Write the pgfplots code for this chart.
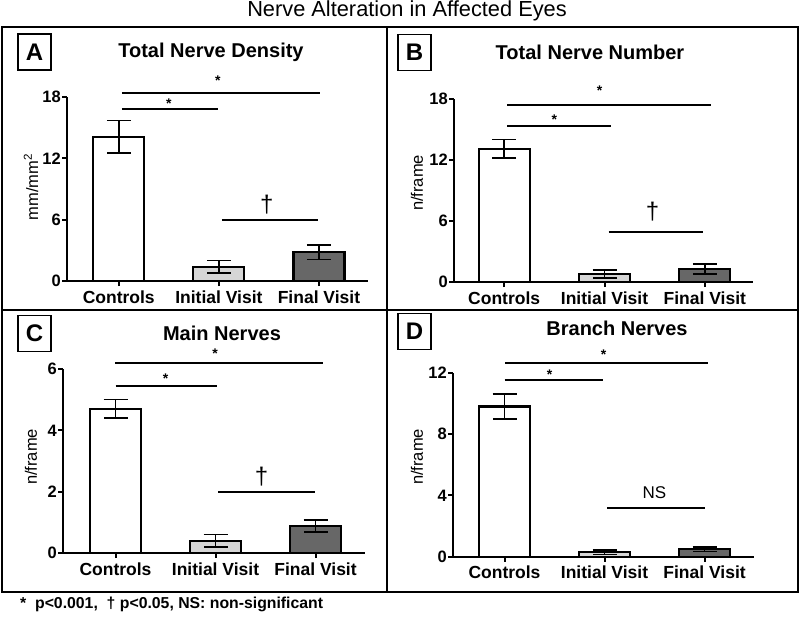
\documentclass[border=0pt]{standalone}
\usepackage{pgfplots}
\pgfplotsset{compat=1.18}
\usepackage{fontspec}
\setmainfont{Liberation Sans}
\definecolor{lgray}{HTML}{D6D6D6}
\definecolor{dgray}{HTML}{676767}

\newcommand{\catfont}{\fontsize{17.5}{19}\selectfont\bfseries}
\newcommand{\ttlfont}{\fontsize{20}{22}\selectfont\bfseries}

\tikzset{
  sig/.style={line width=2pt},
  ttl/.style={font=\ttlfont},
  letterbox/.style={draw, line width=1.3pt, minimum width=33pt, minimum height=36pt,
    inner sep=0pt, font=\fontsize{24}{26}\selectfont\bfseries},
  star/.style={font=\fontsize{14}{16}\selectfont\bfseries},
  dag/.style={font=\fontsize{24}{26}\selectfont},
  ylab/.style={rotate=90, font=\fontsize{16.5}{18}\selectfont},
}

\pgfplotsset{
  nerve/.style={
    scale only axis,
    anchor=south west,
    axis lines=left,
    axis line style={-, line width=2pt},
    ymin=0,
    xtick={0,1,2},
    xticklabels={Controls,Initial Visit,Final Visit},
    x tick label style={font=\catfont, yshift=-1pt},
    y tick label style={font=\fontsize{16.5}{18}\selectfont\bfseries, inner sep=1pt},
    /pgf/number format/assume math mode=true,
    tick style={line width=2pt, black},
    major tick length=5pt,
    tick align=outside,
    clip=false,
  },
  bar/.style={ybar, bar shift=0pt, bar width=51pt, draw=black, line width=2.2pt,
    error bars/y dir=both, error bars/y explicit,
    error bars/error bar style={line width=1.6pt, black},
    error bars/error mark options={rotate=90, mark size=12pt, line width=1.6pt, black}},
}

\begin{document}
\begin{tikzpicture}[x=1pt,y=1pt]
\path[use as bounding box] (0,0) rectangle (800,-624);

% frame
\draw[line width=2pt] (2,-27) rectangle (798,-592);
\draw[line width=1.5pt] (2,-310) -- (798,-310);
\draw[line width=1.5pt] (387,-27) -- (387,-592);

\node[font=\fontsize{21.8}{24}\selectfont] at (407,-11) {Nerve Alteration in Affected Eyes};

% panel A
\begin{axis}[nerve, at={(67pt,-281pt)}, width=301pt, height=184pt,
  xmin=-0.517, xmax=2.49, ymax=18, ytick={0,6,12,18}]
  \addplot[bar, fill=white] coordinates {(0,14.1) +- (0,1.6)};
  \addplot[bar, fill=lgray] coordinates {(1,1.4) +- (0,0.6)};
  \addplot[bar, fill=dgray] coordinates {(2,2.8) +- (0,0.7)};
  \draw[sig] (axis cs:0.03,18.4) -- (axis cs:2.01,18.4);
  \draw[sig] (axis cs:0.03,16.8) -- (axis cs:0.99,16.8);
  \draw[sig] (axis cs:1.03,6.0) -- (axis cs:1.99,6.0);
  \node[star] at (axis cs:0.99,19.6) {*};
  \node[star] at (axis cs:0.5,17.3) {*};
  \node[dag] at (axis cs:1.48,7.5) {†};
\end{axis}
\node[ylab] at (31,-187) {mm/mm\textsuperscript{2}};
\node[ttl] at (211,-52) {Total Nerve Density};
\node[letterbox] at (34.5,-52) {A};

% panel B
\begin{axis}[nerve, at={(454pt,-282pt)}, width=299pt, height=183pt,
  xmin=-0.5, xmax=2.48, ymax=18, ytick={0,6,12,18}]
  \addplot[bar, fill=white] coordinates {(0,13.1) +- (0,0.9)};
  \addplot[bar, fill=lgray] coordinates {(1,0.8) +- (0,0.4)};
  \addplot[bar, fill=dgray] coordinates {(2,1.3) +- (0,0.5)};
  \draw[sig] (axis cs:0.03,17.4) -- (axis cs:2.06,17.4);
  \draw[sig] (axis cs:0.03,15.3) -- (axis cs:1.06,15.3);
  \draw[sig] (axis cs:1.04,4.95) -- (axis cs:1.98,4.95);
  \node[star] at (axis cs:0.95,18.8) {*};
  \node[star] at (axis cs:0.5,16.0) {*};
  \node[dag] at (axis cs:1.48,6.9) {†};
\end{axis}
\node[ylab] at (417,-183) {n/frame};
\node[ttl] at (590,-52) {Total Nerve Number};
\node[letterbox] at (414.5,-52.5) {B};

% panel C
\begin{axis}[nerve, at={(63pt,-553pt)}, width=302pt, height=184pt,
  xmin=-0.525, xmax=2.495, ymax=6, ytick={0,2,4,6}]
  \addplot[bar, fill=white] coordinates {(0,4.7) +- (0,0.3)};
  \addplot[bar, fill=lgray] coordinates {(1,0.4) +- (0,0.2)};
  \addplot[bar, fill=dgray] coordinates {(2,0.88) +- (0,0.2)};
  \draw[sig] (axis cs:-0.005,6.19) -- (axis cs:2.075,6.19);
  \draw[sig] (axis cs:0,5.45) -- (axis cs:1.015,5.45);
  \draw[sig] (axis cs:1.025,2.0) -- (axis cs:1.995,2.0);
  \node[star] at (axis cs:0.995,6.5) {*};
  \node[star] at (axis cs:0.5,5.7) {*};
  \node[dag] at (axis cs:1.46,2.5) {†};
\end{axis}
\node[ylab] at (31,-457) {n/frame};
\node[ttl] at (222,-333) {Main Nerves};
\node[letterbox] at (34.5,-333.5) {C};

% panel D
\begin{axis}[nerve, at={(453pt,-556.7pt)}, width=301pt, height=184pt,
  xmin=-0.515, xmax=2.495, ymax=12, ytick={0,4,8,12}]
  \addplot[bar, fill=white] coordinates {(0,9.8) +- (0,0.8)};
  \addplot[bar, fill=lgray] coordinates {(1,0.3) +- (0,0.15)};
  \addplot[bar, fill=dgray] coordinates {(2,0.5) +- (0,0.15)};
  \draw[sig] (axis cs:0.005,12.66) -- (axis cs:2.035,12.66);
  \draw[sig] (axis cs:0,11.5) -- (axis cs:0.985,11.5);
  \draw[sig] (axis cs:1.025,3.15) -- (axis cs:2.005,3.15);
  \node[star] at (axis cs:0.99,13.2) {*};
  \node[star] at (axis cs:0.45,11.9) {*};
  \node[font=\fontsize{17}{19}\selectfont] at (axis cs:1.5,4.17) {NS};
\end{axis}
\node[ylab] at (417,-457) {n/frame};
\node[ttl] at (617,-328) {Branch Nerves};
\node[letterbox] at (414.5,-331.5) {D};

% footnote
\node[anchor=west, font=\fontsize{15.8}{17}\selectfont\bfseries, inner sep=0pt] at (20,-604)
  {*\ \ p<0.001,\ \ † p<0.05, NS: non-significant};
\end{tikzpicture}
\end{document}
